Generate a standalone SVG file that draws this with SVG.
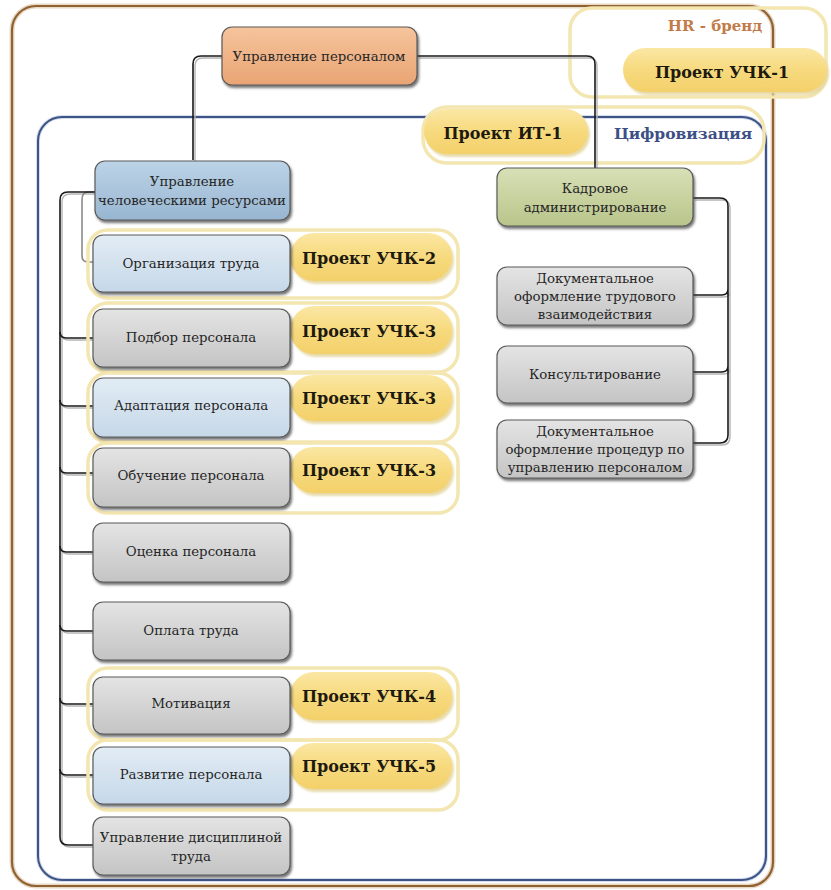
<svg xmlns="http://www.w3.org/2000/svg" xmlns:xlink="http://www.w3.org/1999/xlink" width="831" height="890" viewBox="0 0 831 890">
<style>
.box{stroke:#5a5a5a;stroke-width:1.2;filter:url(#sh)}
.gray{fill:url(#gGray)}
.lblue{fill:url(#gLBlue)}
.blue{fill:url(#gBlue)}
.green{fill:url(#gGreen)}
.orange{fill:url(#gOrange)}
.t{font-family:"DejaVu Serif","Liberation Serif",serif;font-size:13.3px;fill:#262626;text-anchor:middle}
.pill{fill:url(#gPill);filter:url(#psh)}
.pt{font-family:"DejaVu Serif","Liberation Serif",serif;font-size:16px;font-weight:bold;fill:#1e1a10;text-anchor:middle}
.pale{fill:none;stroke:#F3E6B0;stroke-width:3.5}
.conn{fill:none;stroke:#1a1a1a;stroke-width:1.6}
.connsh{fill:none;stroke:#b4b4b4;stroke-width:1.4}
</style>
<defs>
<linearGradient id="gGray" x1="0" y1="0" x2="0" y2="1"><stop offset="0" stop-color="#E4E4E4"/><stop offset="1" stop-color="#C4C4C4"/></linearGradient>
<linearGradient id="gLBlue" x1="0" y1="0" x2="0" y2="1"><stop offset="0" stop-color="#E2ECF5"/><stop offset="1" stop-color="#C6D8E8"/></linearGradient>
<linearGradient id="gBlue" x1="0" y1="0" x2="0" y2="1"><stop offset="0" stop-color="#BCD3E7"/><stop offset="1" stop-color="#98B6D1"/></linearGradient>
<linearGradient id="gGreen" x1="0" y1="0" x2="0" y2="1"><stop offset="0" stop-color="#D8E0B6"/><stop offset="1" stop-color="#B8C58A"/></linearGradient>
<linearGradient id="gOrange" x1="0" y1="0" x2="0" y2="1"><stop offset="0" stop-color="#F6C49C"/><stop offset="1" stop-color="#E9A474"/></linearGradient>
<linearGradient id="gPill" x1="0" y1="0" x2="0" y2="1"><stop offset="0" stop-color="#FBE7A4"/><stop offset="0.5" stop-color="#F7DA7E"/><stop offset="1" stop-color="#F3D06A"/></linearGradient>
<filter id="sh" x="-10%" y="-10%" width="125%" height="130%"><feDropShadow dx="1.5" dy="2.5" stdDeviation="1" flood-color="#3a3a3a" flood-opacity="0.7"/></filter>
<filter id="psh" x="-10%" y="-10%" width="125%" height="135%"><feDropShadow dx="2" dy="3" stdDeviation="1.2" flood-color="#E6D7A0" flood-opacity="0.9"/></filter>
</defs>
<rect width="831" height="890" fill="#ffffff"/>

<g id="frame-main">
<rect x="12" y="6" width="761" height="880" rx="24" fill="none" stroke="#E9D8C4" stroke-width="5"/>
<rect x="12" y="6" width="761" height="880" rx="24" fill="none" stroke="#8E6232" stroke-width="2.2"/>
</g>
<g id="frame-hr">
<rect x="570" y="8" width="256" height="89" rx="22" class="pale"/>
<text x="715" y="31" font-family="'DejaVu Serif','Liberation Serif',serif" font-size="15" font-weight="bold" fill="#C27B48" text-anchor="middle">HR - бренд</text>
</g>
<g id="frame-digital">
<rect x="38" y="117" width="728" height="763" rx="24" fill="none" stroke="#D6DEEC" stroke-width="4"/>
<rect x="38" y="117" width="728" height="763" rx="24" fill="none" stroke="#3E5386" stroke-width="2"/>
<rect x="423" y="107" width="341" height="56" rx="24" class="pale"/>
<text x="683" y="139" font-family="'DejaVu Serif','Liberation Serif',serif" font-size="15.5" font-weight="bold" fill="#3D4F86" text-anchor="middle">Цифровизация</text>
</g>

<g id="proj-uchk1">
<rect x="623" y="48" width="204" height="44" rx="22" class="pill"/>
<text x="722" y="78" class="pt">Проект УЧК-1</text>
</g>
<g id="proj-it1">
<rect x="424" y="109" width="164" height="45" rx="22.5" class="pill"/>
<text x="503" y="139" class="pt">Проект ИТ-1</text>
</g>

<g id="connectors">
<g transform="translate(2,2)">
<path class="connsh" d="M222,56 H201 Q193,56 193,64 V160"/>
<path class="connsh" d="M417,56 H587 Q595,56 595,64 V168"/>
<path class="connsh" d="M95,192 H68 Q60,192 60,200 V837 Q60,845 68,845 H93"/>
<path class="connsh" d="M60,332 Q60,338 66,338 H93 M60,400 Q60,406 66,406 H93 M60,467 Q60,473 66,473 H93 M60,546 Q60,552 66,552 H93 M60,625 Q60,631 66,631 H93 M60,698 Q60,704 66,704 H93 M60,769 Q60,775 66,775 H93"/>
<path class="connsh" d="M693,198 H720 Q728,198 728,206 V435 Q728,443 720,443 H693 M728,289 Q728,295 722,295 H693 M728,366 Q728,372 722,372 H693"/>
</g>
<path d="M95,192 H88 Q82,192 82,200 V256 Q82,262 88,262 H93" fill="none" stroke="#8a8a8a" stroke-width="1.6"/>
<path class="conn" d="M222,56 H201 Q193,56 193,64 V160"/>
<path class="conn" d="M417,56 H587 Q595,56 595,64 V168"/>
<path class="conn" d="M95,192 H68 Q60,192 60,200 V837 Q60,845 68,845 H93"/>
<path class="conn" d="M60,332 Q60,338 66,338 H93 M60,400 Q60,406 66,406 H93 M60,467 Q60,473 66,473 H93 M60,546 Q60,552 66,552 H93 M60,625 Q60,631 66,631 H93 M60,698 Q60,704 66,704 H93 M60,769 Q60,775 66,775 H93"/>
<path class="conn" d="M693,198 H720 Q728,198 728,206 V435 Q728,443 720,443 H693 M728,289 Q728,295 722,295 H693 M728,366 Q728,372 722,372 H693"/>
</g>

<g id="n-root">
<rect x="222" y="27" width="195" height="58" rx="10" class="box orange"/>
<text x="319" y="61" class="t">Управление персоналом</text>
</g>
<g id="n-hrm">
<rect x="95" y="161" width="195" height="59" rx="10" class="box blue"/>
<text x="192" y="186" class="t">Управление</text>
<text x="192" y="205" class="t">человеческими ресурсами</text>
</g>
<g id="n-admin">
<rect x="497" y="168" width="196" height="58" rx="10" class="box green"/>
<text x="595" y="193" class="t">Кадровое</text>
<text x="595" y="212" class="t">администрирование</text>
</g>
<g id="n-doc1">
<rect x="497" y="267" width="196" height="58" rx="10" class="box gray"/>
<text x="595" y="283" class="t">Документальное</text>
<text x="595" y="301" class="t">оформление трудового</text>
<text x="595" y="319" class="t">взаимодействия</text>
</g>
<g id="n-consult">
<rect x="497" y="346" width="196" height="57" rx="10" class="box gray"/>
<text x="595" y="379" class="t">Консультирование</text>
</g>
<g id="n-doc2">
<rect x="497" y="420" width="196" height="58" rx="10" class="box gray"/>
<text x="595" y="436" class="t">Документальное</text>
<text x="595" y="454" class="t">оформление процедур по</text>
<text x="595" y="472" class="t">управлению персоналом</text>
</g>

<g id="n-org">
<rect x="88" y="230" width="370" height="68" rx="20" class="pale"/>
<rect x="290" y="233" width="162" height="48" rx="24" class="pill"/>
<text x="369" y="264" class="pt">Проект УЧК-2</text>
<rect x="93" y="235" width="197" height="57" rx="10" class="box lblue"/>
<text x="191" y="268" class="t">Организация труда</text>
</g>
<g id="n-podbor">
<rect x="88" y="303" width="370" height="69" rx="20" class="pale"/>
<rect x="290" y="306" width="162" height="48" rx="24" class="pill"/>
<text x="369" y="337" class="pt">Проект УЧК-3</text>
<rect x="93" y="309" width="197" height="58" rx="10" class="box gray"/>
<text x="191" y="342" class="t">Подбор персонала</text>
</g>
<g id="n-adapt">
<rect x="88" y="373" width="370" height="69" rx="20" class="pale"/>
<rect x="290" y="375" width="162" height="46" rx="23" class="pill"/>
<text x="369" y="404" class="pt">Проект УЧК-3</text>
<rect x="93" y="378" width="197" height="59" rx="10" class="box lblue"/>
<text x="191" y="410" class="t">Адаптация персонала</text>
</g>
<g id="n-train">
<rect x="88" y="443" width="370" height="70" rx="20" class="pale"/>
<rect x="290" y="447" width="162" height="46" rx="23" class="pill"/>
<text x="369" y="476" class="pt">Проект УЧК-3</text>
<rect x="93" y="448" width="197" height="59" rx="10" class="box gray"/>
<text x="191" y="480" class="t">Обучение персонала</text>
</g>
<g id="n-eval">
<rect x="93" y="523" width="197" height="59" rx="10" class="box gray"/>
<text x="191" y="556" class="t">Оценка персонала</text>
</g>
<g id="n-pay">
<rect x="93" y="602" width="197" height="58" rx="10" class="box gray"/>
<text x="191" y="635" class="t">Оплата труда</text>
</g>
<g id="n-motiv">
<rect x="88" y="668" width="370" height="72" rx="20" class="pale"/>
<rect x="290" y="672" width="162" height="48" rx="24" class="pill"/>
<text x="369" y="702" class="pt">Проект УЧК-4</text>
<rect x="93" y="677" width="197" height="57" rx="10" class="box gray"/>
<text x="191" y="708" class="t">Мотивация</text>
</g>
<g id="n-dev">
<rect x="88" y="740" width="370" height="70" rx="20" class="pale"/>
<rect x="290" y="743" width="162" height="46" rx="23" class="pill"/>
<text x="369" y="772" class="pt">Проект УЧК-5</text>
<rect x="93" y="747" width="197" height="57" rx="10" class="box lblue"/>
<text x="191" y="779" class="t">Развитие персонала</text>
</g>
<g id="n-disc">
<rect x="93" y="817" width="197" height="58" rx="10" class="box gray"/>
<text x="191" y="842" class="t">Управление дисциплиной</text>
<text x="191" y="861" class="t">труда</text>
</g>
</svg>
